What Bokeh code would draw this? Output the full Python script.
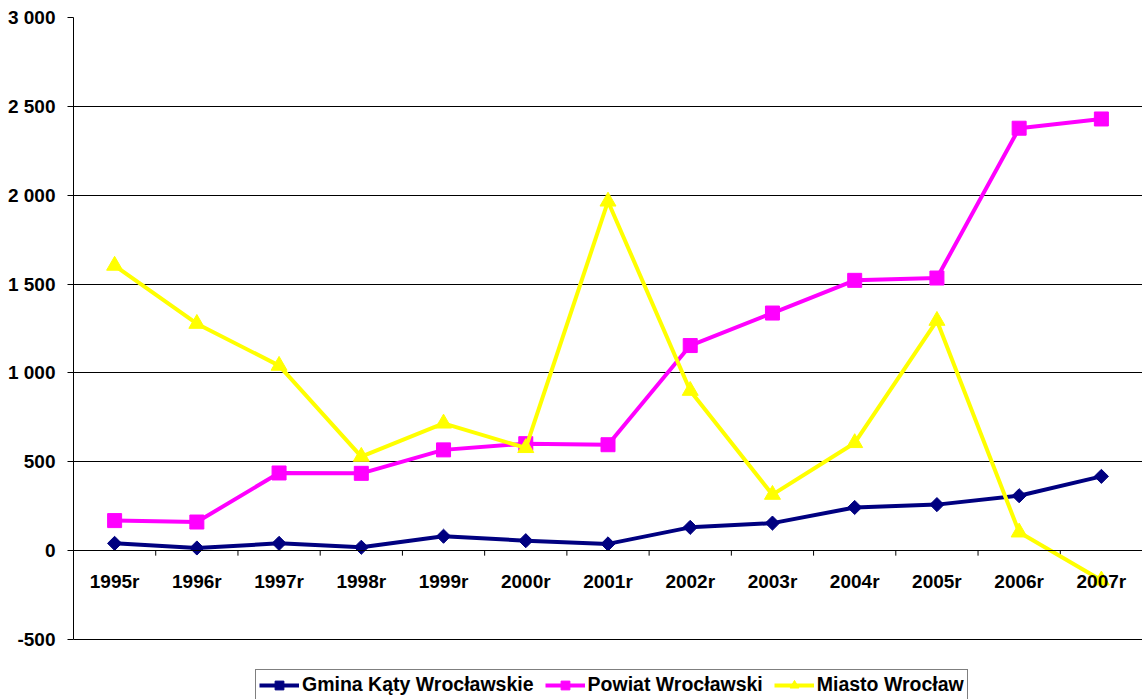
import math
from bokeh.plotting import figure
from bokeh.models import Range1d, FactorRange, FixedTicker, Legend, LegendItem, ColumnDataSource
from bokeh.embed import file_html
from bokeh.resources import INLINE

# ---- data ----
categories = ["1995r", "1996r", "1997r", "1998r", "1999r", "2000r", "2001r",
              "2002r", "2003r", "2004r", "2005r", "2006r", "2007r"]
gmina = [41, 15, 41, 19, 81, 56, 38, 131, 155, 243, 259, 309, 418]
powiat = [169, 161, 437, 435, 567, 602, 596, 1154, 1337, 1521, 1534, 2377, 2429]
miasto = [1604, 1277, 1041, 529, 716, 578, 1965, 900, 315, 606, 1294, 103, -167]
series_names = ["Gmina Kąty Wrocławskie", "Powiat Wrocławski", "Miasto Wrocław"]
y_ticks = [-500, 0, 500, 1000, 1500, 2000, 2500, 3000]

# ---- layout ----
FONT = "Liberation Sans"
W, H = 1142, 699
LEFT, TOP = 73, 17
AXIS_BOTTOM_PX = 639          # pixel row of the -500 line inside the figure
y_axis_min, y_axis_max = y_ticks[0], y_ticks[-1]
px_per_unit = (AXIS_BOTTOM_PX - TOP) / (y_axis_max - y_axis_min)
y_lo = y_axis_min - (H - AXIS_BOTTOM_PX) / px_per_unit

p = figure(width=W, height=H, title=None,
           x_range=FactorRange(*categories),
           y_range=Range1d(y_lo, y_axis_max),
           output_backend="svg", toolbar_location=None,
           min_border_left=LEFT, min_border_top=TOP,
           min_border_right=0, min_border_bottom=0)
p.outline_line_color = None
p.background_fill_color = "white"
p.border_fill_color = "white"

# y axis
p.yaxis.ticker = FixedTicker(ticks=y_ticks)
p.yaxis.bounds = (y_axis_min, y_axis_max)
p.yaxis.major_label_overrides = {t: f"{t:,}".replace(",", " ") for t in y_ticks}
p.yaxis.minor_tick_line_color = None
p.yaxis.major_tick_out = 6
p.yaxis.major_tick_in = 0
p.yaxis.major_tick_line_color = "black"
p.yaxis.axis_line_color = "black"
p.yaxis.major_label_standoff = 12
p.yaxis.major_label_text_font = FONT
p.yaxis.major_label_text_font_style = "bold"
p.yaxis.major_label_text_font_size = "19px"
p.yaxis.major_label_text_color = "black"

# y grid
p.ygrid.ticker = FixedTicker(ticks=y_ticks)
p.ygrid.grid_line_color = "black"
p.ygrid.grid_line_width = 1
p.xgrid.grid_line_color = None

# x axis crossing at 0
p.xaxis.fixed_location = 0
p.xaxis.major_tick_line_color = None
p.xaxis.minor_tick_line_color = None
p.xaxis.axis_line_color = "black"
p.xaxis.major_label_standoff = 14
p.xaxis.major_label_text_font = FONT
p.xaxis.major_label_text_font_style = "bold"
p.xaxis.major_label_text_font_size = "19px"
p.xaxis.major_label_text_color = "black"

# tick marks at category boundaries (pointing down from 0)
tick_len = 5 / px_per_unit
tick_src = ColumnDataSource(dict(
    x=[(c, 0.5) for c in categories],
    y0=[0] * len(categories),
    y1=[-tick_len] * len(categories),
))
p.segment(x0="x", x1="x", y0="y0", y1="y1", source=tick_src,
          line_color="black", line_width=1)

# series
specs = [
    (gmina, "#000080", "square", 10, math.pi / 4),
    (powiat, "#FF00FF", "square", 14, 0),
    (miasto, "#FFFF00", "triangle", 16, 0),
]
items = []
for (vals, color, marker, size, angle), name in zip(specs, series_names):
    ln = p.line(categories, vals, line_color=color, line_width=4, line_join="round")
    sc = p.scatter(categories, vals, marker=marker, size=size, angle=angle,
                   fill_color=color, line_color=color)
    items.append(LegendItem(label=name, renderers=[ln, sc]))

legend = Legend(items=items, orientation="horizontal", location=(182, -1))
legend.border_line_color = "black"
legend.border_line_width = 1
legend.background_fill_color = "white"
legend.background_fill_alpha = 1
legend.label_text_font = FONT
legend.label_text_font_style = "bold"
legend.label_text_font_size = "19.5px"
legend.label_text_color = "black"
legend.glyph_width = 40
legend.glyph_height = 22
legend.label_height = 20
legend.label_standoff = 3
legend.spacing = 11
legend.padding = 3
legend.margin = 0
p.add_layout(legend)

open("out.html", "w").write(file_html(p, INLINE))
